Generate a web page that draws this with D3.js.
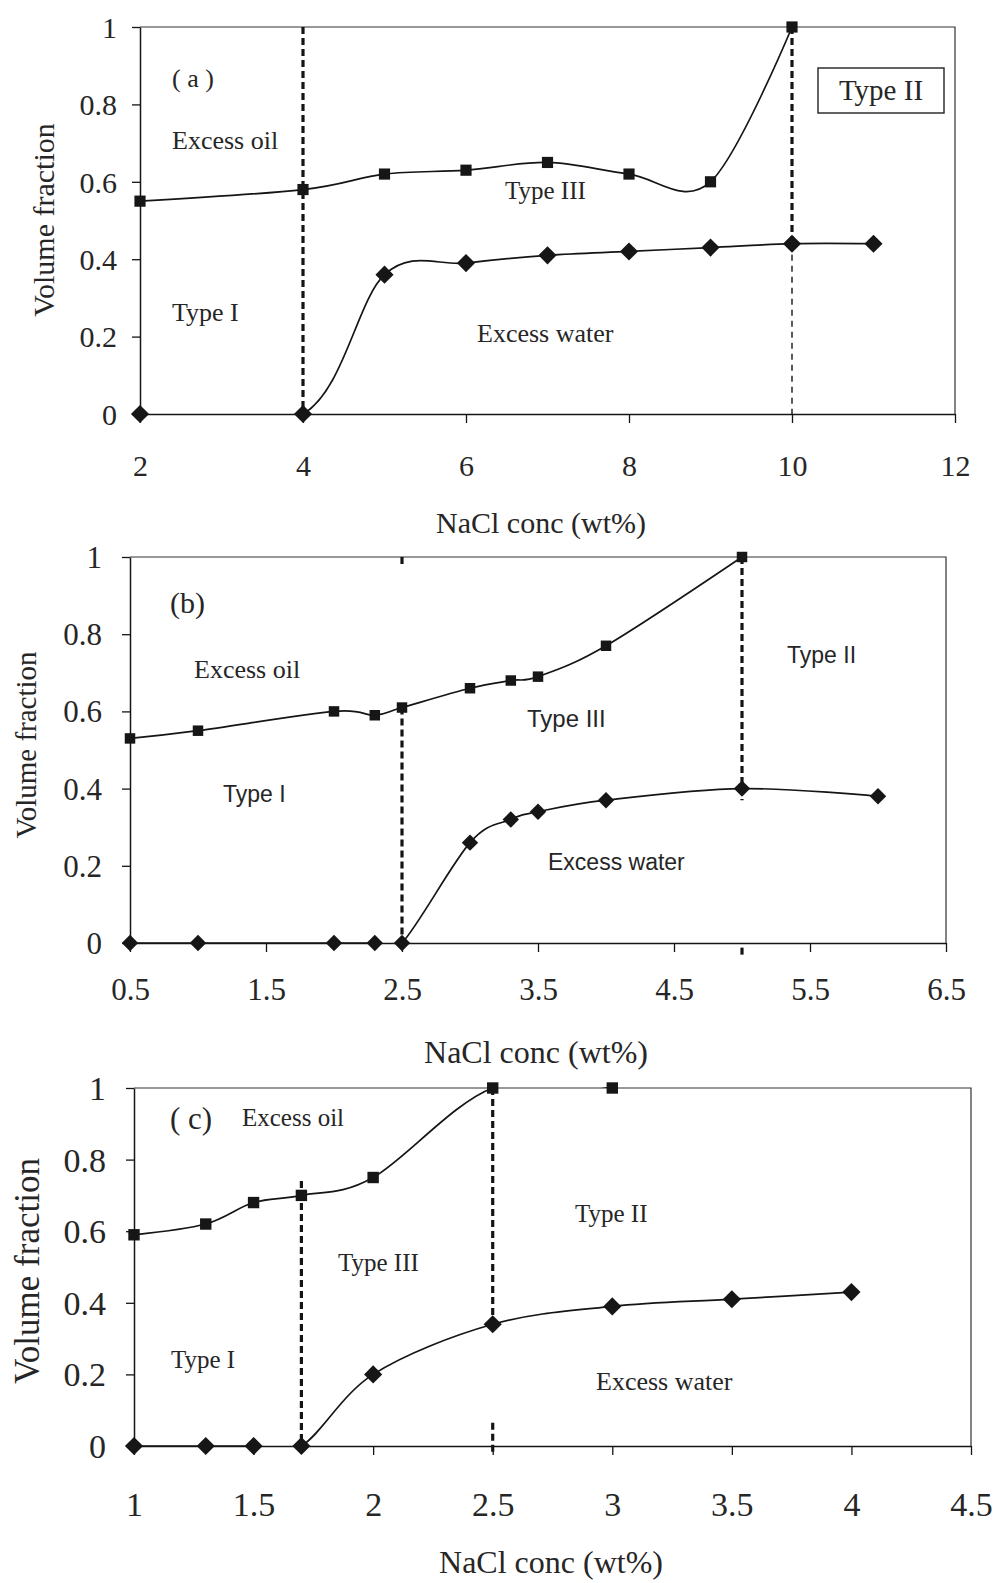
<!DOCTYPE html>
<html>
<head>
<meta charset="utf-8">
<script src="https://cdn.jsdelivr.net/npm/d3@7"></script>
<style>
  body { margin: 0; background: #fff; }
  svg { display: block; }
</style>
</head>
<body>
<svg id="chart" width="996" height="1583"></svg>
<script>
// ---------- Panel (a) ----------
const concOilA   = [2, 4, 5, 6, 7, 8, 9, 10];
const oilA       = [0.55, 0.58, 0.62, 0.63, 0.65, 0.62, 0.60, 1.0];
const concWaterA = [2, 4, 5, 6, 7, 8, 9, 10, 11];
const waterA     = [0, 0, 0.36, 0.39, 0.41, 0.42, 0.43, 0.44, 0.44];
const ticksXA    = [2, 4, 6, 8, 10, 12];

// ---------- Panel (b) ----------
const concOilB   = [0.5, 1.0, 2.0, 2.3, 2.5, 3.0, 3.3, 3.5, 4.0, 5.0];
const oilB       = [0.53, 0.55, 0.60, 0.59, 0.61, 0.66, 0.68, 0.69, 0.77, 1.0];
const concWaterB = [0.5, 1.0, 2.0, 2.3, 2.5, 3.0, 3.3, 3.5, 4.0, 5.0, 6.0];
const waterB     = [0, 0, 0, 0, 0, 0.26, 0.32, 0.34, 0.37, 0.40, 0.38];
const ticksXB    = [0.5, 1.5, 2.5, 3.5, 4.5, 5.5, 6.5];

// ---------- Panel (c) ----------
const concOilC   = [1.0, 1.3, 1.5, 1.7, 2.0, 2.5, 3.0];
const oilC       = [0.59, 0.62, 0.68, 0.70, 0.75, 1.0, 1.0];
const concWaterC = [1.0, 1.3, 1.5, 1.7, 2.0, 2.5, 3.0, 3.5, 4.0];
const waterC     = [0, 0, 0, 0, 0.20, 0.34, 0.39, 0.41, 0.43];
const ticksXC    = [1, 1.5, 2, 2.5, 3, 3.5, 4, 4.5];

const ticksY = [0, 0.2, 0.4, 0.6, 0.8, 1];

// Phase boundaries (concentration, upper and lower volume fraction)
const boundsA = [
  { x: 4,  y0: 1.0,  y1: 0,    weight: "thick" },
  { x: 10, y0: 1.0,  y1: 0.44, weight: "thick" },
  { x: 10, y0: 0.44, y1: 0,    weight: "thin" }
];
const boundsB = [
  { x: 2.5, y0: 0.61, y1: -0.005, weight: "thick" },
  { x: 2.5, y0: 1.0,  y1: 0.975,  weight: "thick" },
  { x: 5,   y0: 1.0,  y1: 0.37,   weight: "thick" },
  { x: 5,   y0: -0.012, y1: -0.032, weight: "thick" }
];
const boundsC = [
  { x: 1.7, y0: 0.74, y1: -0.025, weight: "thick" },
  { x: 2.5, y0: 1.0,  y1: 0.336,  weight: "thick" },
  { x: 2.5, y0: 0.065, y1: -0.02, weight: "thick" }
];

const SERIF = "'Liberation Serif', 'Times New Roman', serif";
const SANS  = "'Liberation Sans', Arial, sans-serif";
const INK = "#151515";
const TEXT = "#262626";

const svg = d3.select("#chart");

// square turned 45 degrees
const diamond = {
  draw(ctx, size) {
    const r = Math.sqrt(size / 2);
    ctx.moveTo(0, -r); ctx.lineTo(r, 0); ctx.lineTo(0, r); ctx.lineTo(-r, 0); ctx.closePath();
  }
};

const panels = [
  {
    id: "a", left: 140, right: 955, top: 27, bottom: 414, xDomain: [2, 12], xTicks: ticksXA,
    oil: { x: concOilA, y: oilA }, water: { x: concWaterA, y: waterA }, bounds: boundsA,
    tickFont: 30, yLabelGap: 15, xLabelOffset: 52,
    xTitle: { cx: 541, base: 533, size: 30 }, yTitle: { cx: 43, cy: 220, size: 30 },
    sq: 125, dia: 165,
    labels: [
      { t: "( a )", x: 172, cy: 78, f: SERIF, s: 26 },
      { t: "Excess oil", x: 172, cy: 140, f: SERIF, s: 26 },
      { t: "Type I", x: 172, cy: 312, f: SERIF, s: 26 },
      { t: "Type III", x: 505, cy: 190, f: SERIF, s: 25 },
      { t: "Excess water", x: 477, cy: 333, f: SERIF, s: 26 }
    ],
    box: { t: "Type II", x0: 818, y0: 68, x1: 944, y1: 113, s: 29 }
  },
  {
    id: "b", left: 130, right: 946, top: 557, bottom: 943, xDomain: [0.5, 6.5], xTicks: ticksXB,
    oil: { x: concOilB, y: oilB }, water: { x: concWaterB, y: waterB }, bounds: boundsB,
    tickFont: 31, yLabelGap: 20, xLabelOffset: 46,
    xTitle: { cx: 536, base: 1063, size: 32 }, yTitle: { cx: 26, cy: 745, size: 29 },
    sq: 110, dia: 135,
    labels: [
      { t: "(b)", x: 170, cy: 602, f: SERIF, s: 30 },
      { t: "Excess oil", x: 194, cy: 669, f: SERIF, s: 26 },
      { t: "Type I", x: 223, cy: 794, f: SANS, s: 23 },
      { t: "Type III", x: 527, cy: 719, f: SANS, s: 24 },
      { t: "Type II", x: 787, cy: 655, f: SANS, s: 23 },
      { t: "Excess water", x: 548, cy: 862, f: SANS, s: 23 }
    ]
  },
  {
    id: "c", left: 134, right: 971, top: 1088, bottom: 1446, xDomain: [1, 4.5], xTicks: ticksXC,
    oil: { x: concOilC, y: oilC }, water: { x: concWaterC, y: waterC }, bounds: boundsC,
    tickFont: 34, yLabelGap: 20, xLabelOffset: 58,
    xTitle: { cx: 551, base: 1573, size: 32 }, yTitle: { cx: 27, cy: 1271, size: 35 },
    sq: 130, dia: 165,
    labels: [
      { t: "( c)", x: 170, cy: 1118, f: SERIF, s: 31 },
      { t: "Excess oil", x: 242, cy: 1117, f: SERIF, s: 25 },
      { t: "Type III", x: 338, cy: 1262, f: SERIF, s: 25 },
      { t: "Type I", x: 171, cy: 1359, f: SERIF, s: 25 },
      { t: "Type II", x: 575, cy: 1213, f: SERIF, s: 25 },
      { t: "Excess water", x: 596, cy: 1381, f: SERIF, s: 26 }
    ]
  }
];

const fmt = d => String(+d.toFixed(2));

panels.forEach(p => {
  const g = svg.append("g").attr("class", "panel-" + p.id);
  const x = d3.scaleLinear().domain(p.xDomain).range([p.left, p.right]);
  const y = d3.scaleLinear().domain([0, 1]).range([p.bottom, p.top]);

  // clip region for the smoothed curves
  g.append("clipPath").attr("id", "clip-" + p.id)
    .append("rect")
    .attr("x", p.left).attr("y", p.top - 1)
    .attr("width", p.right - p.left).attr("height", p.bottom - p.top + 1);

  // thin frame on top and right
  g.append("path")
    .attr("d", `M${p.left},${p.top}H${p.right}V${p.bottom}`)
    .attr("fill", "none").attr("stroke", "#333").attr("stroke-width", 1.2);

  // x axis
  const xa = g.append("g")
    .attr("transform", `translate(0,${p.bottom})`)
    .call(d3.axisBottom(x).tickValues(p.xTicks).tickSize(9).tickSizeOuter(0).tickFormat(fmt));
  xa.attr("font-family", SERIF);
  xa.select(".domain").attr("stroke", INK).attr("stroke-width", 1.5);
  xa.selectAll(".tick line").attr("stroke", INK).attr("stroke-width", 1.3);
  xa.selectAll(".tick text")
    .attr("y", p.xLabelOffset).attr("dy", "0.34em")
    .style("font-family", SERIF).attr("font-size", p.tickFont).attr("fill", TEXT);

  // y axis
  const ya = g.append("g")
    .attr("transform", `translate(${p.left},0)`)
    .call(d3.axisLeft(y).tickValues(ticksY).tickSize(8).tickSizeOuter(0).tickPadding(p.yLabelGap).tickFormat(fmt));
  ya.attr("font-family", SERIF);
  ya.select(".domain").attr("stroke", INK).attr("stroke-width", 1.5);
  ya.selectAll(".tick line").attr("stroke", INK).attr("stroke-width", 1.3);
  ya.selectAll(".tick text")
    .attr("dy", "0.34em")
    .style("font-family", SERIF).attr("font-size", p.tickFont).attr("fill", TEXT);

  // phase-boundary dashed lines
  g.selectAll("line.bound")
    .data(p.bounds)
    .join("line")
    .attr("class", "bound")
    .attr("x1", d => x(d.x)).attr("x2", d => x(d.x))
    .attr("y1", d => y(d.y0)).attr("y2", d => y(d.y1))
    .attr("stroke", INK)
    .attr("stroke-width", d => d.weight === "thick" ? 3.2 : 1.4)
    .attr("stroke-dasharray", d => d.weight === "thick" ? "7,4" : "6,5");

  // smoothed curves
  const line = d3.line().x(d => x(d[0])).y(d => y(d[1])).curve(d3.curveCardinal.tension(0));
  const oilPts = p.oil.x.map((v, i) => [v, p.oil.y[i]]);
  const waterPts = p.water.x.map((v, i) => [v, p.water.y[i]]);

  g.append("g").attr("clip-path", `url(#clip-${p.id})`)
    .selectAll("path")
    .data([oilPts, waterPts])
    .join("path")
    .attr("d", line)
    .attr("fill", "none").attr("stroke", INK).attr("stroke-width", 1.7);

  // markers
  g.selectAll("path.sq")
    .data(oilPts)
    .join("path")
    .attr("class", "sq")
    .attr("transform", d => `translate(${x(d[0])},${y(d[1])})`)
    .attr("d", d3.symbol(d3.symbolSquare, p.sq))
    .attr("fill", "#161616");

  g.selectAll("path.dm")
    .data(waterPts)
    .join("path")
    .attr("class", "dm")
    .attr("transform", d => `translate(${x(d[0])},${y(d[1])})`)
    .attr("d", d3.symbol(diamond, p.dia))
    .attr("fill", "#161616");

  // region labels
  g.selectAll("text.region")
    .data(p.labels)
    .join("text")
    .attr("class", "region")
    .attr("x", d => d.x).attr("y", d => d.cy).attr("dy", "0.35em")
    .attr("font-family", d => d.f).attr("font-size", d => d.s)
    .attr("fill", TEXT)
    .text(d => d.t);

  if (p.box) {
    const b = p.box;
    g.append("rect")
      .attr("x", b.x0).attr("y", b.y0).attr("width", b.x1 - b.x0).attr("height", b.y1 - b.y0)
      .attr("fill", "#fff").attr("stroke", "#222").attr("stroke-width", 1.4);
    g.append("text")
      .attr("x", (b.x0 + b.x1) / 2).attr("y", (b.y0 + b.y1) / 2).attr("dy", "0.32em")
      .attr("text-anchor", "middle")
      .attr("font-family", SERIF).attr("font-size", b.s).attr("fill", TEXT)
      .text(b.t);
  }

  // axis titles
  g.append("text")
    .attr("x", p.xTitle.cx).attr("y", p.xTitle.base)
    .attr("text-anchor", "middle")
    .attr("font-family", SERIF).attr("font-size", p.xTitle.size).attr("fill", TEXT)
    .text("NaCl conc (wt%)");

  g.append("text")
    .attr("transform", `translate(${p.yTitle.cx},${p.yTitle.cy}) rotate(-90)`)
    .attr("dy", "0.35em")
    .attr("text-anchor", "middle")
    .attr("font-family", SERIF).attr("font-size", p.yTitle.size).attr("fill", TEXT)
    .text("Volume fraction");
});
</script>
</body>
</html>
